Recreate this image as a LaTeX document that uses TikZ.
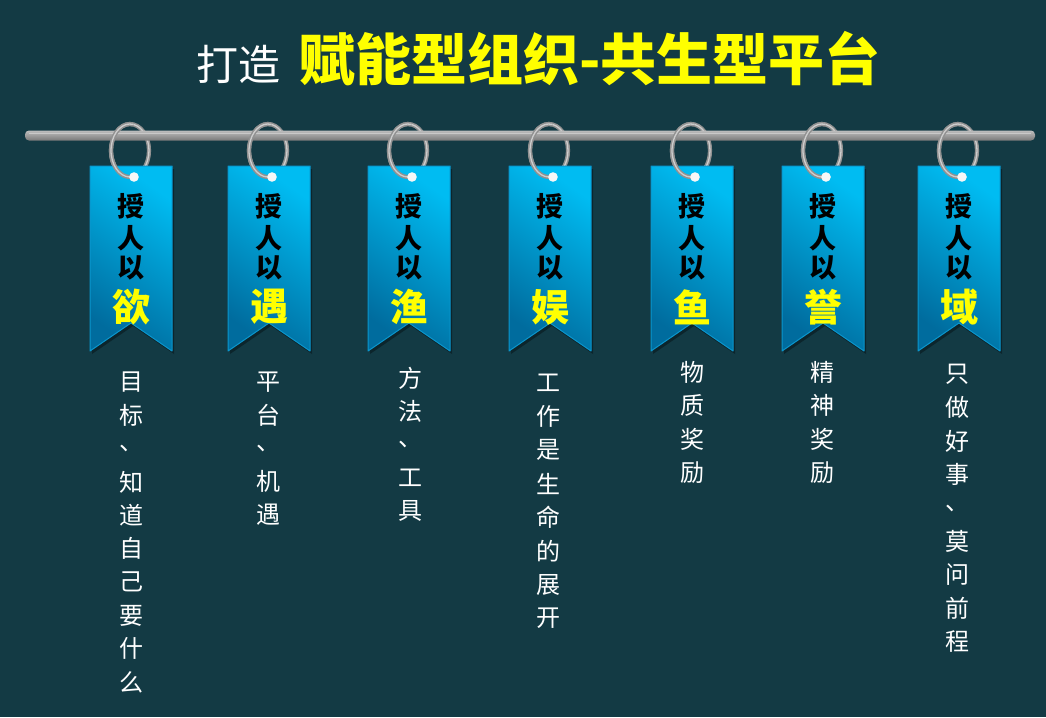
\documentclass[tikz,border=0pt]{standalone}
\usepackage{fontspec}
\newfontfamily\cjk{Noto Sans CJK SC}
\definecolor{bg}{RGB}{19,58,68}
\definecolor{taglight}{RGB}{0,188,242}
\definecolor{tagdark}{RGB}{0,108,158}
\definecolor{tagedge}{RGB}{10,150,205}
\definecolor{ttly}{RGB}{255,255,0}
\definecolor{ringc}{RGB}{145,145,145}
\definecolor{ringh}{RGB}{205,205,205}
\definecolor{rodtop}{RGB}{190,190,190}
\definecolor{rodbot}{RGB}{120,120,120}
\tikzset{
  ringback/.style={draw=ringc, line width=4.2pt},
  ringhi/.style={draw=ringh, line width=1.3pt},
  tagtxt/.style={font=\cjk\bfseries\fontsize{27}{27}\selectfont, text=black, inner sep=0pt},
  tagkey/.style={font=\cjk\bfseries\fontsize{38}{38}\selectfont, text=ttly, inner sep=0pt},
  desc/.style={font=\cjk\fontsize{24}{24}\selectfont, text=white, inner sep=0pt},
}
\newcommand\tagpath[1]{({#1-41},166) -- ({#1+41},166) -- ({#1+41},351) -- (#1,323) -- ({#1-41},351) -- cycle}
\begin{document}
\begin{tikzpicture}[x=1pt,y=-1pt]
\fill[bg] (0,0) rectangle (1046,717);
\useasboundingbox (0,0) rectangle (1046,717);
% title
\node[anchor=base west, inner sep=0pt, font=\cjk\fontsize{42}{42}\selectfont, text=white] (t0) at (196,81) {打造};
\node[anchor=base west, inner sep=0pt, font=\cjk\bfseries\fontsize{56}{56}\selectfont, text=ttly] (t1) at (299,81) {赋能型组织-共生型平台};
% rings (back)
\foreach \x in {131,269,409,550,692,823,959}{
  \draw[ringback] ({\x-1},150.5) ellipse[x radius=19pt, y radius=26.5pt];
  \draw[ringhi] ({\x-1},150.5) ellipse[x radius=19pt, y radius=26.5pt];
}
% rod
\shade[top color=rodtop, bottom color=rodbot, rounded corners=4pt] (25,130.5) rectangle (1035,140.5);
\draw[white, opacity=0.35, line width=1pt] (29,133) -- (1031,133);
% tags
\foreach \x/\k/\i in {131/欲/1,269/遇/2,409/渔/3,550/娱/4,692/鱼/5,823/誉/6,959/域/7}{
  \draw[ringback] ({\x-1},150.5) ++(80:19pt and 26.5pt) arc[start angle=80, end angle=270, x radius=19pt, y radius=26.5pt];
  \draw[ringhi] ({\x-1},150.5) ++(80:19pt and 26.5pt) arc[start angle=80, end angle=270, x radius=19pt, y radius=26.5pt];
  \fill[black, opacity=0.35] [shift={(2,3)}] \tagpath{\x};
  \shade[top color=taglight, bottom color=tagdark, shading angle=-35] \tagpath{\x};
  \draw[tagedge, line width=1pt, line join=round] \tagpath{\x};
  \draw[ringback] ({\x-1},150.5) ++(190:19pt and 26.5pt) arc[start angle=190, end angle=285, x radius=19pt, y radius=26.5pt];
  \draw[ringhi] ({\x-1},150.5) ++(190:19pt and 26.5pt) arc[start angle=190, end angle=280, x radius=19pt, y radius=26.5pt];
  \fill[white!94!gray] ({\x+3},177) circle[radius=4.8pt];
  \node[tagtxt] (a\i) at (\x,206) {授};
  \node[tagtxt] (b\i) at (\x,238) {人};
  \node[tagtxt] (c\i) at (\x,268) {以};
  \node[tagkey] (k\i) at (\x,307) {\k};
}
% descriptions
\foreach \c [count=\n] in {目,标,、,知,道,自,己,要,什,么}
  \node[desc] (p\n) at (131,{382+33.35*(\n-1)}) {\c};
\foreach \c [count=\n] in {平,台,、,机,遇}
  \node[desc] (q\n) at (268,{382+33.2*(\n-1)}) {\c};
\foreach \c [count=\n] in {方,法,、,工,具}
  \node[desc] (r\n) at (410,{378+33.3*(\n-1)}) {\c};
\foreach \c [count=\n] in {工,作,是,生,命,的,展,开}
  \node[desc] (s\n) at (548,{383+33.6*(\n-1)}) {\c};
\foreach \c [count=\n] in {物,质,奖,励}
  \node[desc] (u\n) at (692,{372+33.7*(\n-1)}) {\c};
\foreach \c [count=\n] in {精,神,奖,励}
  \node[desc] (v\n) at (822,{372+33.7*(\n-1)}) {\c};
\foreach \c [count=\n] in {只,做,好,事,、,莫,问,前,程}
  \node[desc] (w\n) at (957,{374+33.5*(\n-1)}) {\c};
\end{tikzpicture}
\end{document}
